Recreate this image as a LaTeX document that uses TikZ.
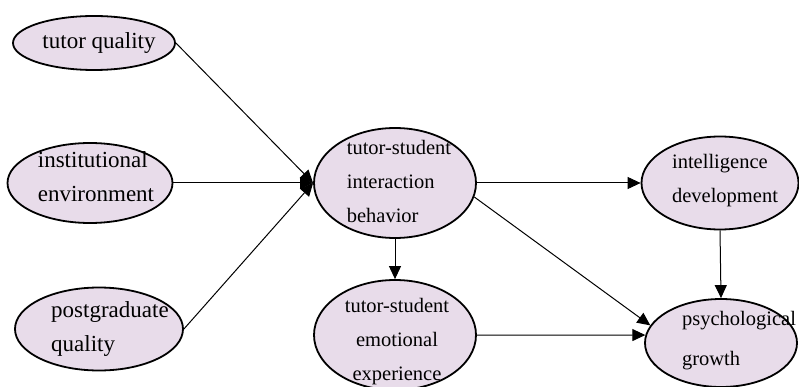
\documentclass[tikz,border=0pt]{standalone}
\usepackage{fontspec}
\setmainfont{Liberation Serif}
\usetikzlibrary{arrows.meta,shapes.geometric}
\definecolor{nodefill}{HTML}{E8DCEA}

\begin{document}
\begin{tikzpicture}[
  x=1pt, y=-1pt,
  latent/.style={ellipse,draw=black,line width=1.8pt,fill=nodefill,inner sep=0pt},
  txt/.style={inner sep=0pt,align=left,font=\fontsize{20.5}{34}\selectfont},
  txtbig/.style={txt,font=\fontsize{23}{34}\selectfont},
  link/.style={-{Triangle[length=13pt,width=12pt]},line width=1pt},
  ]

  \useasboundingbox (0,0) rectangle (799,387);

  % left column
  \node (tutor_quality) [latent,minimum width=162pt,minimum height=54pt] at (94,43) {};
  \node (tutor_quality_txt) [txtbig] at (99,43) {tutor quality};

  \node (inst_env) [latent,minimum width=165pt,minimum height=80pt] at (90,183) {};
  \node (inst_env_txt) [txtbig] at (96,177) {institutional\\environment};

  \node (postgrad) [latent,minimum width=168pt,minimum height=83pt] at (99,329) {};
  \node (postgrad_txt) [txtbig] at (110,329) {postgraduate\\quality};

  % middle column
  \node (interaction) [latent,minimum width=162pt,minimum height=110pt] at (395,183) {};
  \node (interaction_txt) [txt] at (399,181) {tutor-student\\interaction\\behavior};

  \node (emotional) [latent,minimum width=162pt,minimum height=110pt] at (395,335) {};
  \node (emotional_txt) [txt,align=center] at (397,342) {tutor-student\\emotional\\experience};

  % right column
  \node (intelligence) [latent,minimum width=157pt,minimum height=93pt] at (720,183) {};
  \node (intelligence_txt) [txt] at (725,181) {intelligence\\development};

  \node (psych) [latent,minimum width=152pt,minimum height=88pt] at (721,343) {};
  \node (psych_txt) [txt,font=\fontsize{20.5}{40}\selectfont] at (739,341) {psychological\\growth};

  \draw [link] (tutor_quality.east) -- (interaction.west);
  \draw [link] (inst_env.east) -- (interaction.west);
  \draw [link] (postgrad.east) -- (interaction.west);

  \draw [link] (interaction.east) -- (intelligence.west);
  \draw [link] (interaction.-10) -- (psych.166);
  \draw [link] (interaction.south) -- (emotional.north);
  \draw [link] (emotional.east) -- (psych.174);
  \draw [link] (intelligence.south) -- (psych.north);

\end{tikzpicture}
\end{document}
